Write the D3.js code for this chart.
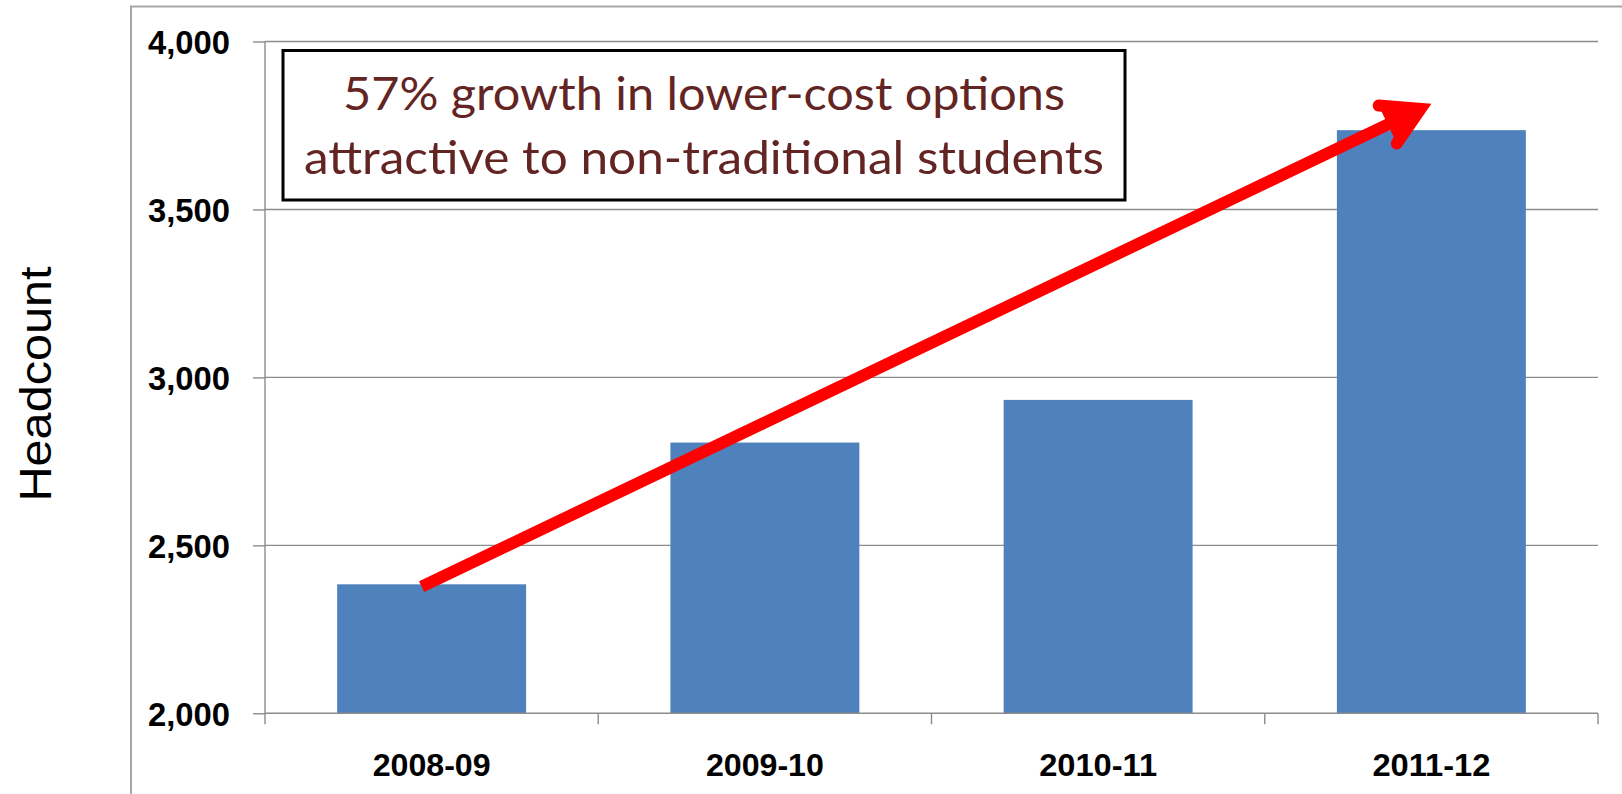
<!DOCTYPE html>
<html>
<head>
<meta charset="utf-8">
<script src="https://cdn.jsdelivr.net/npm/d3@7"></script>
<style>
  html, body { margin: 0; padding: 0; background: #fff; }
  svg { display: block; }
</style>
</head>
<body>
<svg id="chart" width="1622" height="794"></svg>
<script>
// ---- data ----
const categories = ["2008-09", "2009-10", "2010-11", "2011-12"];
const headcount = [2384, 2806, 2933, 3736];
const yTicks = [2000, 2500, 3000, 3500, 4000];
const yAxisTitle = "Headcount";
const annotationLines = ["57% growth in lower-cost options", "attractive to non-traditional students"];
// arrow annotation (category, value) for start and tip
const arrowFrom = { cat: "2008-09", value: 2377 };
const arrowTo = { cat: "2011-12", value: 3815 };

// ---- layout ----
const W = 1622, H = 794;
const plot = { left: 265, right: 1598, top: 41.5, bottom: 713.3 };

const svg = d3.select("#chart");

const x = d3.scaleBand()
  .domain(categories)
  .range([plot.left, plot.right])
  .paddingInner(0.433)
  .paddingOuter(0.2165);

const y = d3.scaleLinear()
  .domain([2000, 4000])
  .range([plot.bottom, plot.top]);

const gridColor = "#8c8c8c";

// outer frame (extends beyond the canvas right/bottom)
svg.append("path")
  .attr("d", `M131,${H + 5} L131,6.5 L${W + 5},6.5`)
  .attr("fill", "none")
  .attr("stroke", "#a6a6a6")
  .attr("stroke-width", 2);

// gridlines
svg.append("g")
  .selectAll("line")
  .data(yTicks.filter(d => d !== 2000))
  .join("line")
  .attr("x1", plot.left)
  .attr("x2", plot.right)
  .attr("y1", d => y(d))
  .attr("y2", d => y(d))
  .attr("stroke", gridColor)
  .attr("stroke-width", 1.4);

// bars
svg.append("g")
  .selectAll("rect")
  .data(categories.map((c, i) => ({ c, v: headcount[i] })))
  .join("rect")
  .attr("x", d => x(d.c))
  .attr("width", x.bandwidth())
  .attr("y", d => y(d.v))
  .attr("height", d => y(2000) - y(d.v))
  .attr("fill", "#4f81bd");

// y axis
const yAxis = d3.axisLeft(y)
  .tickValues(yTicks)
  .tickSize(12)
  .tickPadding(23)
  .tickFormat(d3.format(","));
const gy = svg.append("g")
  .attr("transform", `translate(${plot.left},0)`)
  .call(yAxis);
gy.select(".domain").attr("stroke", gridColor).attr("stroke-width", 1.4)
  .attr("d", `M0,${plot.top}V${plot.bottom}`);
gy.selectAll(".tick line").attr("stroke", gridColor).attr("stroke-width", 1.4);
gy.selectAll(".tick text")
  .attr("font-family", "Liberation Sans, Arial, sans-serif")
  .attr("font-weight", "bold")
  .attr("font-size", 33)
  .attr("fill", "#000")
  .attr("dy", "0.36em")
  .attr("textLength", 82)
  .attr("lengthAdjust", "spacingAndGlyphs");

// x axis: ticks at category boundaries
const boundaries = categories.map(c => x(c) - x.step() * x.paddingInner() / 2)
  .concat([plot.right]);
const gx = svg.append("g")
  .attr("transform", `translate(0,${plot.bottom})`);
gx.append("line")
  .attr("x1", plot.left).attr("x2", plot.right)
  .attr("stroke", gridColor).attr("stroke-width", 1.4);
gx.selectAll("line.tk")
  .data(boundaries)
  .join("line")
  .attr("class", "tk")
  .attr("x1", d => d).attr("x2", d => d)
  .attr("y1", 0).attr("y2", 11)
  .attr("stroke", gridColor).attr("stroke-width", 1.4);
gx.selectAll("text")
  .data(categories)
  .join("text")
  .attr("x", d => x(d) + x.bandwidth() / 2)
  .attr("y", 63)
  .attr("text-anchor", "middle")
  .attr("font-family", "Liberation Sans, Arial, sans-serif")
  .attr("font-weight", "bold")
  .attr("font-size", 32)
  .attr("fill", "#000")
  .attr("textLength", 118)
  .attr("lengthAdjust", "spacingAndGlyphs")
  .text(d => d);

// y axis title
svg.append("text")
  .attr("transform", `translate(51,384) rotate(-90)`)
  .attr("text-anchor", "middle")
  .attr("font-family", "Liberation Sans, Arial, sans-serif")
  .attr("font-size", 44)
  .attr("fill", "#000")
  .attr("textLength", 235)
  .attr("lengthAdjust", "spacingAndGlyphs")
  .text(yAxisTitle);

// annotation box
svg.append("rect")
  .attr("x", 283).attr("y", 50.5)
  .attr("width", 842).attr("height", 149.5)
  .attr("fill", "#fff")
  .attr("stroke", "#000")
  .attr("stroke-width", 3);
const lineLens = [722, 800];
svg.append("g")
  .selectAll("text")
  .data(annotationLines)
  .join("text")
  .attr("x", 704)
  .attr("y", (d, i) => 110 + i * 64)
  .attr("text-anchor", "middle")
  .attr("font-family", "Lato, 'Open Sans', sans-serif")
  .attr("font-size", 47)
  .attr("fill", "#632523")
  .attr("textLength", (d, i) => lineLens[i])
  .attr("lengthAdjust", "spacingAndGlyphs")
  .text(d => d);

// arrow
const x0 = x(arrowFrom.cat) + x.bandwidth() / 2 - 10;
const y0 = y(arrowFrom.value);
const x1 = x(arrowTo.cat) + x.bandwidth() / 2;
const y1 = y(arrowTo.value);
const len = Math.hypot(x1 - x0, y1 - y0);
const ux = (x1 - x0) / len, uy = (y1 - y0) / len;
const sw = 12;
const half = 30 * Math.PI / 180;
const tipBack = (sw / 2) / Math.sin(half);
const px = x1 - ux * tipBack, py = y1 - uy * tipBack;
const backAng = Math.atan2(-uy, -ux);
const barbLen = 42;
const b1 = [px + barbLen * Math.cos(backAng + half), py + barbLen * Math.sin(backAng + half)];
const b2 = [px + barbLen * Math.cos(backAng - half), py + barbLen * Math.sin(backAng - half)];

svg.append("line")
  .attr("x1", x0).attr("y1", y0)
  .attr("x2", px - ux * 6).attr("y2", py - uy * 6)
  .attr("stroke", "#ff0000")
  .attr("stroke-width", sw)
  .attr("stroke-linecap", "butt");
svg.append("path")
  .attr("d", `M${b1[0]},${b1[1]} L${px},${py} L${b2[0]},${b2[1]}`)
  .attr("fill", "#ff0000")
  .attr("stroke", "#ff0000")
  .attr("stroke-width", sw)
  .attr("stroke-linecap", "round")
  .attr("stroke-linejoin", "miter")
  .attr("stroke-miterlimit", 10);
</script>
</body>
</html>
